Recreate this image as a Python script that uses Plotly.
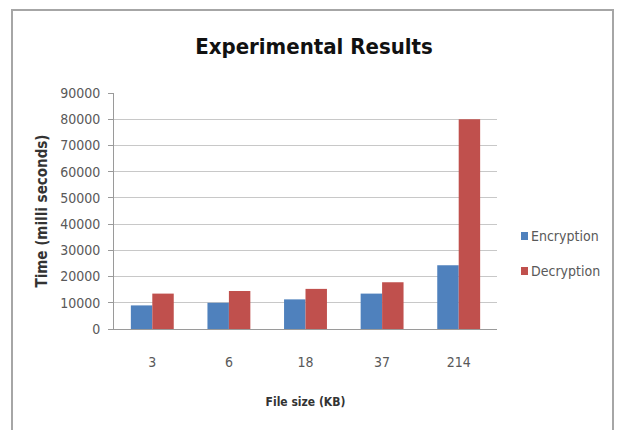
import plotly.graph_objects as go

categories = ["3", "6", "18", "37", "214"]
encryption = [9000, 10000, 11300, 13500, 24300]
decryption = [13500, 14500, 15300, 17800, 80000]
y_ticks = [0, 10000, 20000, 30000, 40000, 50000, 60000, 70000, 80000, 90000]
series_names = ["Encryption", "Decryption"]
series_colors = ["#4F81BD", "#C0504D"]

W, H = 617, 430
L, R, T, B = 114, 120, 93, 101
pw, ph = W - L - R, H - T - B

def px(x):
    return (x - L) / pw

def py(y):
    return (H - B - y) / ph

FONT = "DejaVu Sans Condensed, Liberation Sans, Arial"

fig = go.Figure()
for name, vals, col in zip(series_names, [encryption, decryption], series_colors):
    fig.add_trace(go.Bar(x=categories, y=vals, name=name,
                         marker=dict(color=col, line=dict(width=0))))

shapes = [dict(type="rect", xref="paper", yref="paper",
               x0=px(12), x1=px(613), y0=py(470), y1=py(10),
               line=dict(color="#a6a6a6", width=2), fillcolor="rgba(0,0,0,0)",
               layer="below")]
annotations = []
legend_y = [236, 271]
for name, col, ly in zip(series_names, series_colors, legend_y):
    shapes.append(dict(type="rect", xref="paper", yref="paper",
                       x0=px(521), x1=px(528), y0=py(ly + 4), y1=py(ly - 4),
                       line=dict(width=0), fillcolor=col))
    annotations.append(dict(text=name, xref="paper", yref="paper",
                            x=px(529), y=py(ly), xanchor="left", yanchor="middle",
                            showarrow=False,
                            font=dict(family=FONT, size=14, color="#595959")))

fig.update_layout(
    width=W, height=H,
    margin=dict(l=L, r=R, t=T, b=B, pad=0),
    paper_bgcolor="white", plot_bgcolor="white",
    barmode="group", bargap=0.44, bargroupgap=0,
    font=dict(family=FONT, color="#595959", size=13),
    title=dict(text="<b>Experimental Results</b>", x=314 / W, xanchor="center",
               y=1 - 46 / H, yanchor="middle",
               font=dict(family=FONT, size=22, color="#111111")),
    showlegend=False,
    xaxis=dict(
        showline=True, linecolor="#9a9a9a", linewidth=1,
        ticks="", tickfont=dict(size=14, color="#595959"),
        ticklabelstandoff=20,
        title=dict(text="<b>File size (KB)</b>", standoff=28,
                   font=dict(family=FONT, size=12, color="#333333")),
    ),
    yaxis=dict(
        range=[0, 90000], tickvals=y_ticks, tickformat="d",
        showgrid=True, gridcolor="#c8c8c8", gridwidth=1,
        showline=True, linecolor="#9a9a9a", linewidth=1,
        ticks="outside", ticklen=5, tickcolor="#9a9a9a",
        ticklabelstandoff=5,
        tickfont=dict(size=14, color="#595959"),
        zeroline=False,
        title=dict(text="<b>Time (milli seconds)</b>", standoff=8,
                   font=dict(family=FONT, size=15, color="#333333")),
    ),
    shapes=shapes,
    annotations=annotations,
)

fig.write_html("out.html", config={"displayModeBar": False},
               post_script="document.body.style.margin='0';document.body.style.overflow='hidden';")
